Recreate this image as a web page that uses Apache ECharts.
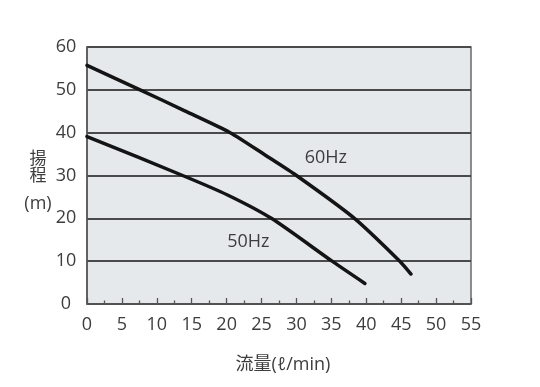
<!DOCTYPE html>
<html>
<head>
<meta charset="utf-8">
<script src="https://cdn.jsdelivr.net/npm/echarts@6/dist/echarts.min.js"></script>
<style>
html,body{margin:0;padding:0;background:#fff;}
#chart{width:540px;height:387px;}
</style>
</head>
<body>
<div id="chart"></div>
<script>
// Data
const flow60 = [0, 7.6, 14, 20.5, 25.5, 30, 38.3, 44.8, 46.4];
const head60 = [55.7, 50, 45.1, 40, 34.8, 30, 20, 10, 7];
const flow50 = [0, 13.7, 20.2, 26.4, 35.1, 39.8];
const head50 = [39.1, 30, 25.4, 20, 10, 4.8];
const seriesNames = ['60Hz', '50Hz'];
const xTicks = [0, 5, 10, 15, 20, 25, 30, 35, 40, 45, 50, 55];
const yTicks = [0, 10, 20, 30, 40, 50, 60];
const xTitle = '流量(ℓ/min)';
const yTitleLines = ['揚', '程', '(m)'];
// label anchors (in data units)
const labelAt60 = [34.2, 34.2];
const labelAt50 = [23.1, 14.5];

const FONT = '"Open Sans", "Noto Sans CJK JP", sans-serif';
const TXT = '#3d3d3d';

const zip = (xs, ys) => xs.map((x, i) => [x, ys[i]]);

const chart = echarts.init(document.getElementById('chart'), null, {renderer: 'canvas'});
chart.setOption({
  animation: false,
  textStyle: {fontFamily: FONT},
  grid: {
    left: 87, right: 69, top: 47, bottom: 83,
    show: true, backgroundColor: '#e6e9ec',
    borderColor: '#6a6a6a', borderWidth: 1.5
  },
  xAxis: {
    type: 'value',
    min: xTicks[0], max: xTicks[xTicks.length - 1], interval: 5,
    axisLine: {show: true, lineStyle: {color: '#555', width: 1.5}},
    axisTick: {show: true, inside: true, length: 6, lineStyle: {color: '#555', width: 1.3}},
    minorTick: {show: true, splitNumber: 2, length: 3.5, lineStyle: {color: '#555', width: 1.3}},
    splitLine: {show: false},
    axisLabel: {color: TXT, fontSize: 18, fontFamily: FONT, margin: 12}
  },
  yAxis: {
    type: 'value',
    min: yTicks[0], max: yTicks[yTicks.length - 1], interval: 10,
    axisLine: {show: true, lineStyle: {color: '#555', width: 1.5}},
    axisTick: {show: false},
    splitLine: {show: true, lineStyle: {color: '#4a4a4a', width: 1.8}},
    axisLabel: {color: TXT, fontSize: 18, fontFamily: FONT, align: 'center', margin: 21}
  },
  graphic: [
    {type: 'text', x: 38, y: 157.5, style: {text: yTitleLines[0], fill: TXT, font: '17px "Noto Sans CJK JP"', textAlign: 'center', textVerticalAlign: 'middle'}},
    {type: 'text', x: 38, y: 175, style: {text: yTitleLines[1], fill: TXT, font: '17px "Noto Sans CJK JP"', textAlign: 'center', textVerticalAlign: 'middle'}},
    {type: 'text', x: 38, y: 204, style: {text: yTitleLines[2], fill: TXT, font: '18px "Open Sans"', textAlign: 'center', textVerticalAlign: 'middle'}},
    {type: 'text', x: 283, y: 365, style: {text: xTitle, fill: TXT, font: '18px "Open Sans", "Noto Sans CJK JP"', textAlign: 'center', textVerticalAlign: 'middle'}}
  ],
  series: [
    {
      name: seriesNames[0], type: 'line', data: zip(flow60, head60),
      smooth: 0.25, showSymbol: false, symbol: 'none',
      lineStyle: {color: '#141414', width: 3.5, cap: 'round'},
      markPoint: {
        symbol: 'circle', symbolSize: 0, silent: true,
        label: {show: true, position: 'inside', formatter: seriesNames[0], color: TXT, fontSize: 18, fontFamily: FONT},
        data: [{coord: labelAt60}]
      }
    },
    {
      name: seriesNames[1], type: 'line', data: zip(flow50, head50),
      smooth: 0.25, showSymbol: false, symbol: 'none',
      lineStyle: {color: '#141414', width: 3.5, cap: 'round'},
      markPoint: {
        symbol: 'circle', symbolSize: 0, silent: true,
        label: {show: true, position: 'inside', formatter: seriesNames[1], color: TXT, fontSize: 18, fontFamily: FONT},
        data: [{coord: labelAt50}]
      }
    }
  ]
});
</script>
</body>
</html>
